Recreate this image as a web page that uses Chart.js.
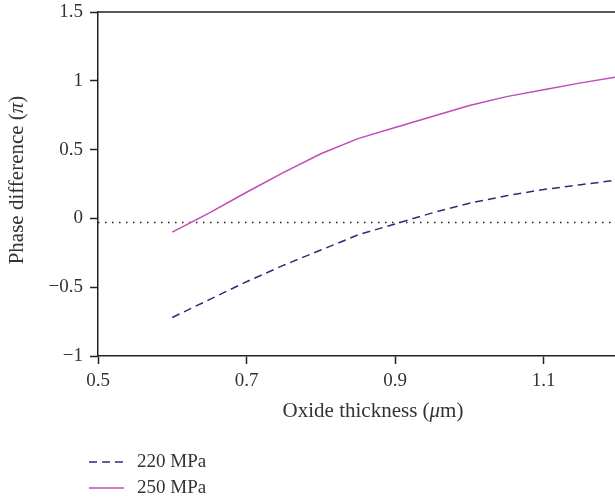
<!DOCTYPE html>
<html>
<head>
<meta charset="utf-8">
<script src="https://cdn.jsdelivr.net/npm/chart.js@4.4.1/dist/chart.umd.min.js"></script>
<style>
  html, body { margin: 0; padding: 0; background: #fff; }
  #wrap { width: 615px; height: 502px; }
</style>
</head>
<body>
<div id="wrap"><canvas id="chart"></canvas></div>
<script>
// oxide thickness (um)
const thickness = [0.6, 0.65, 0.7, 0.75, 0.8, 0.85, 0.9, 0.95, 1.0, 1.05, 1.1, 1.15, 1.2];
// phase difference (pi)
const phase220 = [-0.72, -0.59, -0.46, -0.34, -0.23, -0.12, -0.04, 0.04, 0.11, 0.165, 0.21, 0.245, 0.28];
const phase250 = [-0.1, 0.04, 0.19, 0.335, 0.47, 0.58, 0.66, 0.74, 0.82, 0.885, 0.935, 0.985, 1.03];
const refLevel = -0.03;

const xTicks = [0.5, 0.7, 0.9, 1.1];
const xTickLabels = ["0.5", "0.7", "0.9", "1.1"];
const yTickLabels = ["\u22121", "\u22120.5", "0", "0.5", "1", "1.5"];

// axis titles, second part is set in italic
const xTitle = [["Oxide thickness (", false], ["\u03bc", true], ["m)", false]];
const yTitle = [["Phase difference (", false], ["\u03c0", true], [")", false]];

const FONT = "'Liberation Serif', 'DejaVu Serif', serif";
const TEXT = "#333";
const AXIS = "#222";

const toPoints = (ys) => thickness.map((x, i) => ({ x: x, y: ys[i] }));

function drawRich(ctx, parts, size) {
  let total = 0;
  parts.forEach(([t, it]) => {
    ctx.font = (it ? "italic " : "") + size + "px " + FONT;
    total += ctx.measureText(t).width;
  });
  let x = -total / 2;
  parts.forEach(([t, it]) => {
    ctx.font = (it ? "italic " : "") + size + "px " + FONT;
    ctx.fillText(t, x, 0);
    x += ctx.measureText(t).width;
  });
}

// top frame line, axis titles and the legend under the chart
const extras = {
  id: "extras",
  afterDraw(chart) {
    const ctx = chart.ctx;
    const area = chart.chartArea;
    ctx.save();
    ctx.strokeStyle = AXIS;
    ctx.lineWidth = 1.5;
    ctx.beginPath();
    ctx.moveTo(area.left, area.top);
    ctx.lineTo(area.right, area.top);
    ctx.stroke();

    ctx.fillStyle = TEXT;
    ctx.textBaseline = "middle";
    ctx.textAlign = "left";

    ctx.save();
    ctx.translate(373, 411);
    drawRich(ctx, xTitle, 21);
    ctx.restore();

    ctx.save();
    ctx.translate(17, 180);
    ctx.rotate(-Math.PI / 2);
    drawRich(ctx, yTitle, 21);
    ctx.restore();

    let y = 462;
    chart.data.datasets.forEach((ds) => {
      if (!ds.label) return;
      ctx.strokeStyle = ds.borderColor;
      ctx.lineWidth = ds.borderWidth;
      ctx.setLineDash(ds.borderDash || []);
      ctx.beginPath();
      ctx.moveTo(89, y);
      ctx.lineTo(124, y);
      ctx.stroke();
      ctx.setLineDash([]);
      ctx.fillStyle = TEXT;
      ctx.font = "19px " + FONT;
      ctx.fillText(ds.label, 137, y);
      y += 26;
    });
    ctx.restore();
  },
};

new Chart(document.getElementById("chart"), {
  type: "line",
  data: {
    datasets: [
      {
        label: "220 MPa",
        data: toPoints(phase220),
        borderColor: "#2c2c7c",
        borderWidth: 1.5,
        borderDash: [8, 5],
        pointRadius: 0,
        tension: 0,
      },
      {
        label: "250 MPa",
        data: toPoints(phase250),
        borderColor: "#c04cb6",
        borderWidth: 1.5,
        pointRadius: 0,
        tension: 0,
      },
      {
        label: "",
        data: [{ x: 0.5, y: refLevel }, { x: 1.2, y: refLevel }],
        borderColor: "#222",
        borderWidth: 1.5,
        borderDash: [1.5, 5.5],
        pointRadius: 0,
      },
    ],
  },
  options: {
    responsive: true,
    maintainAspectRatio: false,
    animation: false,
    layout: { padding: { top: 12, right: 0, bottom: 66, left: 0 } },
    plugins: {
      legend: { display: false },
      tooltip: { enabled: false },
    },
    scales: {
      x: {
        type: "linear",
        min: 0.5,
        max: 1.196,
        afterBuildTicks: (scale) => {
          scale.ticks = xTicks.map((v) => ({ value: v }));
        },
        afterFit: (scale) => {
          scale.height = 80;
          scale.paddingLeft = 0;
          scale.paddingRight = 0;
        },
        border: { display: true, color: AXIS, width: 1.5 },
        grid: { display: true, drawOnChartArea: false, drawTicks: true, tickLength: 8, color: AXIS, tickWidth: 1.5 },
        ticks: {
          padding: 6,
          maxRotation: 0,
          autoSkip: false,
          color: TEXT,
          font: { family: FONT, size: 19 },
          callback: (value, index) => xTickLabels[index],
        },
      },
      y: {
        min: -1,
        max: 1.5,
        afterFit: (scale) => {
          scale.width = 98;
          scale.paddingTop = 0;
          scale.paddingBottom = 0;
        },
        border: { display: true, color: AXIS, width: 1.5 },
        grid: { display: true, drawOnChartArea: false, drawTicks: true, tickLength: 8, color: AXIS, tickWidth: 1.5 },
        ticks: {
          stepSize: 0.5,
          padding: 7,
          color: TEXT,
          font: { family: FONT, size: 19 },
          callback: (value, index) => yTickLabels[index],
        },
      },
    },
  },
  plugins: [extras],
});
</script>
</body>
</html>
